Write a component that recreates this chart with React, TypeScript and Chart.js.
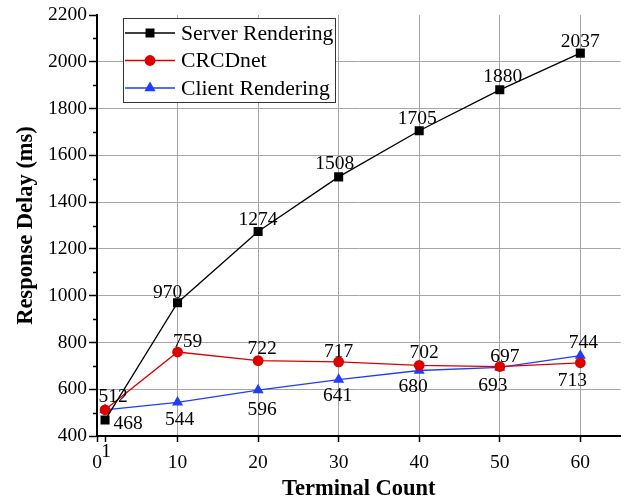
import React, { useEffect, useRef } from "react";
import { Chart, registerables } from "chart.js";

Chart.register(...registerables);

const terminalCounts = [1, 10, 20, 30, 40, 50, 60];
const serverRendering = [468, 970, 1274, 1508, 1705, 1880, 2037];
const crcdNet = [512, 759, 722, 717, 702, 697, 713];
const clientRendering = [512, 544, 596, 641, 680, 693, 744];

const xTickValues = [0, 1, 10, 20, 30, 40, 50, 60];
const yMin = 400;
const yMax = 2200;
const yStep = 200;

// label placement offsets [dx, dy] (null = no label)
const serverLabelPos: ([number, number] | null)[] = [[23, 4], [-10, -10], [0, -12], [-4, -13], [-2, -12], [3, -13], [0, -11]];
const crcdLabelPos: ([number, number] | null)[] = [[8, -13], [10, -10], [4, -12], [0, -10], [5, -12], [5, -10], [-8, 18]];
const clientLabelPos: ([number, number] | null)[] = [null, [2, 18], [4, 20], [-1, 16], [-6, 16], [-7, 18], [3, -13]];

const FONT = "'Liberation Serif', 'Times New Roman', serif";
const RED = "#dd0000";
const BLUE = "#1f3cff";

export default function App() {
  const ref = useRef<HTMLCanvasElement | null>(null);

  useEffect(() => {
    if (!ref.current) return;
    const labelPositions = [serverLabelPos, crcdLabelPos, clientLabelPos];

    const overlay = {
      id: "overlay",
      afterDatasetsDraw(chart: any) {
        const ctx = chart.ctx;
        ctx.save();
        ctx.font = `19.5px ${FONT}`;
        ctx.fillStyle = "#000";
        ctx.textAlign = "center";
        ctx.textBaseline = "middle";
        chart.data.datasets.forEach((ds: any, di: number) => {
          const meta = chart.getDatasetMeta(di);
          meta.data.forEach((pt: any, i: number) => {
            const pos = labelPositions[di][i];
            if (!pos) return;
            ctx.fillText(String(ds.data[i].y), pt.x + pos[0], pt.y + pos[1]);
          });
        });
        ctx.restore();
      },
      afterDraw(chart: any) {
        const ctx = chart.ctx;
        const ys = chart.scales.y;
        const xs = chart.scales.x;
        ctx.save();
        // minor y ticks
        ctx.strokeStyle = "#000";
        ctx.lineWidth = 1.5;
        for (let v = yMin + yStep / 2; v < yMax; v += yStep) {
          const py = Math.round(ys.getPixelForValue(v)) + 0.5;
          ctx.beginPath();
          ctx.moveTo(chart.chartArea.left - 4, py);
          ctx.lineTo(chart.chartArea.left, py);
          ctx.stroke();
        }
        // special "1" label
        ctx.font = `19.5px ${FONT}`;
        ctx.fillStyle = "#000";
        ctx.textAlign = "center";
        ctx.textBaseline = "middle";
        ctx.fillText("1", xs.getPixelForValue(1) + 1, 452);

        // legend
        const lx = 123, ly = 18, lw = 212, lh = 84;
        ctx.fillStyle = "#fff";
        ctx.fillRect(lx, ly, lw, lh);
        ctx.strokeStyle = "#333";
        ctx.lineWidth = 1;
        ctx.strokeRect(lx + 0.5, ly + 0.5, lw, lh);
        const rows = [33, 60.5, 88];
        chart.data.datasets.forEach((ds: any, di: number) => {
          const ry = rows[di];
          ctx.strokeStyle = ds.borderColor;
          ctx.lineWidth = ds.borderWidth;
          ctx.beginPath();
          ctx.moveTo(125, ry);
          ctx.lineTo(175, ry);
          ctx.stroke();
          ctx.fillStyle = ds.pointBackgroundColor;
          const cx = 150;
          ctx.beginPath();
          if (ds.pointStyle === "rect") {
            ctx.rect(cx - 4.5, ry - 4.5, 9, 9);
          } else if (ds.pointStyle === "circle") {
            ctx.arc(cx, ry, 5.4, 0, Math.PI * 2);
          } else {
            const r = 6.5;
            ctx.moveTo(cx, ry - r);
            ctx.lineTo(cx + r * Math.sin((2 * Math.PI) / 3), ry - r * Math.cos((2 * Math.PI) / 3));
            ctx.lineTo(cx + r * Math.sin((4 * Math.PI) / 3), ry - r * Math.cos((4 * Math.PI) / 3));
            ctx.closePath();
          }
          ctx.fill();
          ctx.fillStyle = "#000";
          ctx.font = `21.7px ${FONT}`;
          ctx.textAlign = "left";
          ctx.textBaseline = "middle";
          ctx.fillText(ds.label, 181, ry + 1);
        });
        ctx.restore();
      },
    };

    const toPts = (arr: number[]) => terminalCounts.map((x, i) => ({ x, y: arr[i] }));

    const chart = new Chart(ref.current, {
      type: "line",
      data: {
        datasets: [
          {
            label: "Server Rendering",
            data: toPts(serverRendering),
            borderColor: "#000",
            backgroundColor: "#000",
            pointBackgroundColor: "#000",
            pointBorderColor: "#000",
            pointBorderWidth: 0,
            borderWidth: 1.3,
            pointStyle: "rect",
            pointRadius: 6.4,
          },
          {
            label: "CRCDnet",
            data: toPts(crcdNet),
            borderColor: RED,
            backgroundColor: RED,
            pointBackgroundColor: RED,
            pointBorderColor: RED,
            pointBorderWidth: 0,
            borderWidth: 1.3,
            pointStyle: "circle",
            pointRadius: 5.4,
          },
          {
            label: "Client Rendering",
            data: toPts(clientRendering),
            borderColor: BLUE,
            backgroundColor: BLUE,
            pointBackgroundColor: BLUE,
            pointBorderColor: BLUE,
            pointBorderWidth: 0,
            borderWidth: 1.3,
            pointStyle: "triangle",
            pointRadius: 6.4,
          },
        ] as any,
      },
      plugins: [overlay],
      options: {
        animation: false,
        responsive: false,
        maintainAspectRatio: false,
        layout: { padding: { top: 15, right: 6, left: 0, bottom: 0 } },
        plugins: { legend: { display: false }, tooltip: { enabled: false } },
        scales: {
          x: {
            type: "linear",
            min: 0,
            max: 65,
            afterBuildTicks: (s: any) => {
              s.ticks = xTickValues.map((v) => ({ value: v }));
            },
            afterFit: (s: any) => {
              s.height = 67;
            },
            border: { display: true, color: "#000", width: 2 },
            grid: {
              color: (c: any) => (c.tick && (c.tick.value === 0 || c.tick.value === 1) ? "rgba(0,0,0,0)" : "#a6a6a6"),
              lineWidth: 1,
              tickColor: "#000",
              tickLength: 6,
              tickWidth: 1.5,
            } as any,
            ticks: {
              autoSkip: false,
              maxRotation: 0,
              color: "#000",
              padding: 9,
              font: { family: FONT, size: 19.5 },
              callback: (v: any) => (v === 1 ? "" : String(v)),
            },
            title: {
              display: true,
              text: "Terminal Count",
              color: "#000",
              font: { family: FONT, size: 22.5, weight: "bold" },
              padding: { top: 0, bottom: 0 },
            },
          },
          y: {
            type: "linear",
            min: yMin,
            max: yMax,
            ticks: {
              stepSize: yStep,
              color: "#000",
              padding: 2,
              font: { family: FONT, size: 19.5 },
              callback: (v: any) => String(v),
            },
            afterFit: (s: any) => {
              s.width = 97;
            },
            border: { display: true, color: "#000", width: 2 },
            grid: {
              color: (c: any) =>
                c.tick && (c.tick.value === yMax || c.tick.value === yMin) ? "rgba(0,0,0,0)" : "#a6a6a6",
              lineWidth: 1,
              tickColor: "#000",
              tickLength: 8,
              tickWidth: 1.5,
            } as any,
            title: {
              display: true,
              text: "Response Delay (ms)",
              color: "#000",
              font: { family: FONT, size: 22.5, weight: "bold" },
              padding: { top: 13, bottom: 0 },
            },
          },
        },
      } as any,
    });
    return () => chart.destroy();
  }, []);

  return (
    <div style={{ position: "fixed", left: 0, top: 0, width: 627, height: 503, background: "#fff" }}>
      <canvas ref={ref} width={627} height={503} style={{ display: "block", width: 627, height: 503 }} />
    </div>
  );
}
